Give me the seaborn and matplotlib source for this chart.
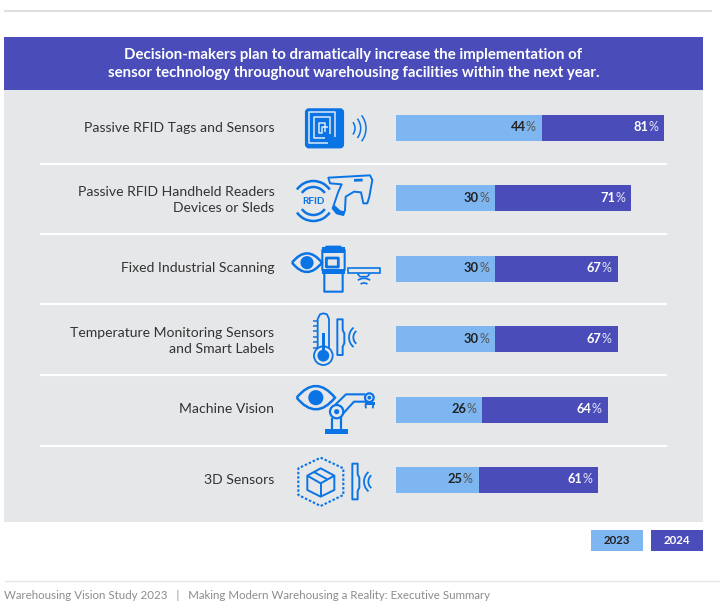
import matplotlib
matplotlib.use('Agg')
import matplotlib.pyplot as plt
from matplotlib.patches import Rectangle, Circle, Arc, FancyBboxPatch, PathPatch, Polygon
from matplotlib.path import Path
from matplotlib.transforms import ScaledTranslation
import seaborn as sns

categories = ['Passive RFID Tags and Sensors',
              'Passive RFID Handheld Readers\nDevices or Sleds',
              'Fixed Industrial Scanning',
              'Temperature Monitoring Sensors\nand Smart Labels',
              'Machine Vision',
              '3D Sensors']
values_2023 = [44, 30, 30, 30, 26, 25]
values_2024 = [81, 71, 67, 67, 64, 61]
legend_labels = ['2023', '2024']
title_text = ('Decision-makers plan to dramatically increase the implementation of\n'
              'sensor technology throughout warehousing facilities within the next year.')
footer_text = 'Warehousing Vision Study 2023   |   Making Modern Warehousing a Reality: Executive Summary'

DARK = '#4A4DB9'
LIGHT = '#7EB6F2'
PANEL = '#E6E7E9'
ICON = '#0B74E5'
TEXT = '#333333'

sns.set_theme(style='white')
plt.rcParams['font.family'] = ['Lato', 'DejaVu Sans']

fig = plt.figure(figsize=(7.2, 6.05), dpi=100, facecolor='white')

# pixel layer for panel, rules and icons
bg = fig.add_axes([0, 0, 1, 1], zorder=0)
bg.set_xlim(0, 720)
bg.set_ylim(605, 0)
bg.axis('off')

bg.add_patch(Rectangle((4, 37), 699, 53, color=DARK, lw=0))
bg.add_patch(Rectangle((4, 90), 699, 432, color=PANEL, lw=0))
bg.plot([5, 711], [11, 11], color='#DEDEDE', lw=1.5)
bg.plot([5, 720], [581, 581], color='#E6E6E6', lw=1)
for y in [163.5, 233.5, 304, 375, 445.5]:
    bg.plot([40, 667], [y, y], color='white', lw=1.5, solid_capstyle='butt')

bg.text(353.5, 64, title_text, color='white', fontsize=10.85, fontweight='bold',
        ha='center', va='center', linespacing=1.42)
bg.text(4, 595.5, footer_text, color='#8C8C8C', fontsize=8.3, ha='left', va='center')

for x0, lab, col, tcol in [(591, legend_labels[0], LIGHT, '#222222'),
                           (651, legend_labels[1], DARK, 'white')]:
    bg.add_patch(Rectangle((x0, 530), 52, 21, color=col, lw=0))
    bg.text(x0 + 26, 540.5, lab, color=tcol, fontsize=8.3, fontweight='bold',
            ha='center', va='center')


# icon helpers: coordinates are taken from 3x crops
def mapper(ox, oy):
    return lambda x, y: (ox + x / 3, oy + y / 3)


def poly(m, pts, lw=1.3, closed=False, fill=None, color=ICON, ls='-'):
    bg.add_patch(Polygon([m(*p) for p in pts], closed=closed, fill=fill is not None,
                         facecolor=fill if fill else 'none', edgecolor=color, lw=lw, ls=ls,
                         joinstyle='round'))


def circ(m, x, y, r, fill=None, lw=1.3, color=ICON):
    bg.add_patch(Circle(m(x, y), r / 3, facecolor=fill if fill else 'none', edgecolor=color, lw=lw))


def arcs(m, x, y, radii, t1, t2, lw=1.1):
    for r in radii:
        bg.add_patch(Arc(m(x, y), 2 * r / 3, 2 * r / 3, theta1=t1, theta2=t2, color=ICON, lw=lw))


def eye(m, x0, x1, y, h, pupil):
    xm = (x0 + x1) / 2
    a, b, c, d = m(x0, y), m(xm, y - 2 * h), m(x1, y), m(xm, y + 2 * h)
    p = Path([a, b, c, d, a], [Path.MOVETO, Path.CURVE3, Path.CURVE3, Path.CURVE3, Path.CURVE3])
    bg.add_patch(PathPatch(p, facecolor='none', edgecolor=ICON, lw=1.8))
    circ(m, xm, y, pupil, fill=ICON)


def bracket(m, x, y):
    poly(m, [(x, y), (x + 16, y), (x + 16, y + 32), (x + 21, y + 42), (x + 21, y + 72),
             (x + 16, y + 82), (x + 16, y + 107), (x, y + 107)], closed=True, lw=1.4)


m2 = mapper(280, 95)
m3 = mapper(280, 305)

# tag
x, y = m2(75, 40)
bg.add_patch(FancyBboxPatch((x + 2, y + 2), 35, 36, boxstyle='round,pad=0,rounding_size=2',
                            facecolor=ICON, edgecolor=ICON, lw=3))
poly(m2, [(165, 125), (165, 52), (88, 52), (88, 145), (145, 145)], color='#DCE9F8', lw=1.1)
poly(m2, [(150, 118), (150, 67), (103, 67), (103, 130), (135, 130)], color='#DCE9F8', lw=1.1)
poly(m2, [(135, 110), (135, 83), (118, 83), (118, 115), (125, 115), (125, 97), (145, 97)],
     color='#DCE9F8', lw=1.1)
arcs(m2, 195, 100, [30, 47, 63], -38, 38)

# handheld reader
bg.text(*m2(100, 318), 'RFID', color=ICON, fontsize=7.2, fontweight='bold', ha='center', va='center')
arcs(m2, 100, 318, [42, 60], 215, 325, lw=1.8)
arcs(m2, 100, 318, [42, 60], 35, 145, lw=1.8)
poly(m2, [(145, 248), (270, 241), (277, 255), (268, 305), (262, 325), (250, 325), (243, 292),
          (222, 290), (197, 305), (195, 345), (190, 360), (170, 355), (158, 340), (175, 290),
          (185, 268), (150, 265)], closed=True, lw=1.4)
poly(m2, [(222, 256), (248, 255)], lw=2)
poly(m2, [(160, 335), (178, 352), (192, 355)], lw=3)

# fixed scanning
eye(m2, 36, 126, 503, 28, 17)
poly(m2, [(127, 512), (127, 465), (140, 455), (180, 455), (194, 465), (194, 525), (188, 535),
          (188, 590), (133, 590), (133, 535), (127, 525)], closed=True, lw=1.5)
bg.add_patch(Rectangle(m2(127, 457), 67 / 3, 18 / 3, color=ICON, lw=0))
bg.add_patch(Rectangle(m2(127, 522), 67 / 3, 14 / 3, color=ICON, lw=0))
bg.add_patch(FancyBboxPatch(m2(140, 490), 34 / 3, 25 / 3, boxstyle='round,pad=0.3',
                            facecolor='none', edgecolor=ICON, lw=2))
bg.add_patch(Rectangle(m2(205, 518), 95 / 3, 16 / 3, facecolor='none', edgecolor=ICON, lw=1.2))
poly(m2, [(232, 535), (240, 545), (262, 545), (270, 535)], lw=1.2)
arcs(m2, 252, 582, [18, 32], 235, 305, lw=1.2)

# thermometer
poly(m3, [(113, 130), (113, 42), (120, 28), (130, 25), (141, 28), (147, 42), (147, 130)], lw=1.3)
circ(m3, 130, 152, 28)
circ(m3, 130, 152, 15, fill=ICON)
bg.add_patch(Rectangle(m3(125, 83), 10 / 3, 65 / 3, color=ICON, lw=0))
for ty in [47, 62, 78, 95, 112, 128]:
    poly(m3, [(100, ty), (113, ty)], lw=1.1)
bracket(m3, 172, 43)
arcs(m3, 245, 97, [25, 38], 130, 230, lw=1.3)

# machine vision
eye(m3, 50, 165, 278, 35, 20)
bg.add_patch(Rectangle(m3(135, 372), 69 / 3, 14 / 3, color=ICON, lw=0))
poly(m3, [(155, 338), (155, 372)], lw=1.6)
poly(m3, [(182, 335), (182, 372)], lw=1.6)
circ(m3, 170, 320, 20, lw=1.6)
circ(m3, 170, 320, 5, fill=ICON)
poly(m3, [(165, 300), (198, 268), (256, 268)], lw=1.5)
poly(m3, [(188, 327), (222, 290), (258, 290)], lw=1.5)
circ(m3, 268, 278, 13, lw=1.6)
circ(m3, 268, 278, 3, fill=ICON)
bg.add_patch(Rectangle(m3(254, 292), 30 / 3, 9 / 3, color=ICON, lw=0))
poly(m3, [(256, 298), (258, 310)], lw=1.3)
poly(m3, [(280, 298), (278, 310)], lw=1.3)

# 3d sensors
poly(m3, [(122, 458), (190, 490), (190, 570), (122, 603), (55, 570), (55, 490)], closed=True,
     lw=1.5, ls=(0, (1.2, 0.9)))
poly(m3, [(82, 512), (122, 490), (163, 512), (163, 555), (122, 575), (82, 555)], closed=True, lw=1.4)
poly(m3, [(82, 512), (122, 535), (163, 512)], lw=1.4)
poly(m3, [(122, 535), (122, 575)], lw=1.4)
poly(m3, [(100, 500), (142, 523)], lw=1.4)
bracket(m3, 217, 476)
arcs(m3, 290, 530, [25, 38], 130, 230, lw=1.3)

# bars: 3.31 px per percent, six rows of 70.4 px
ax = fig.add_axes([396 / 720, 1 - 515.2 / 605, 90 * 3.31 / 720, 422.4 / 605], zorder=1)
ax.patch.set_visible(False)
sns.barplot(x=values_2024, y=categories, color=DARK, saturation=1, width=0.37, linewidth=0, ax=ax)
sns.barplot(x=values_2023, y=categories, color=LIGHT, saturation=1, width=0.37, linewidth=0, ax=ax)
ax.set_xlim(0, 90)
ax.set_ylim(5.5, -0.5)
ax.set_xlabel('')
ax.set_ylabel('')
ax.set_xticks([])
sns.despine(ax=ax, left=True, bottom=True)
ax.tick_params(axis='y', length=0, pad=87.5, labelsize=10.1, labelcolor=TEXT)
nudge = ScaledTranslation(0, 1.3 / 100, fig.dpi_scale_trans)
for t in ax.get_yticklabels():
    t.set_ha('right')
    t.set_linespacing(1.42)
    t.set_transform(t.get_transform() + nudge)

for i in range(len(categories)):
    for v, c, pc in [(values_2023[i], '#222222', '#555555'), (values_2024[i], 'white', '#E4E4F6')]:
        ax.annotate('%', (v, i), xytext=(-4.3, 0.4), textcoords='offset points', color=pc,
                    fontsize=9, ha='right', va='center')
        ax.annotate(str(v), (v, i), xytext=(-11.6, 0.4), textcoords='offset points', color=c,
                    fontsize=9.3, fontweight='bold', ha='right', va='center')

fig.savefig('out.png', dpi=100, facecolor='white')
